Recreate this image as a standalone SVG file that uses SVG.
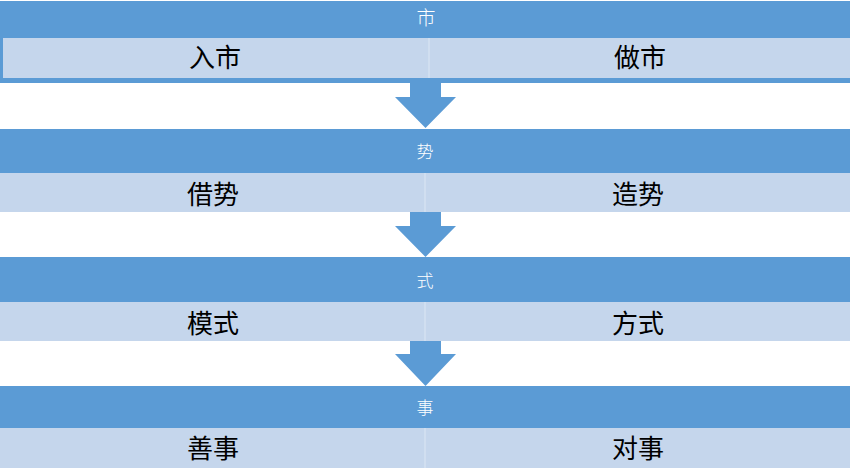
<svg xmlns="http://www.w3.org/2000/svg" width="850" height="468" viewBox="0 0 850 468">
<style>
.hd{fill:#5B9BD5}
.cell{fill:#C5D6EC}
.div{stroke:#D8E4F3;stroke-width:1.2}
.ht{fill:#FFFFFF;font-family:"Noto Sans CJK SC",sans-serif;font-size:17px;font-weight:300;text-anchor:middle;dominant-baseline:central}
.ct{fill:#000000;font-family:"Noto Sans CJK SC",sans-serif;font-size:26px;text-anchor:middle;dominant-baseline:central}
.arr{fill:#5B9BD5}
</style>
<rect width="850" height="468" fill="#FFFFFF"/>
<g id="node-shi">
<rect class="hd" x="0" y="1" width="850" height="82"/>
<rect class="cell" x="3" y="38" width="847" height="40"/>
<line class="div" x1="429" y1="38" x2="429" y2="78"/>
<text class="ht" x="426" y="16" style="font-size:19px">市</text>
<text class="ct" x="215" y="55">入市</text>
<text class="ct" x="640" y="55">做市</text>
</g>
<g id="node-shi4">
<rect class="hd" x="0" y="129" width="850" height="44"/>
<rect class="cell" x="0" y="173" width="850" height="39"/>
<line class="div" x1="425" y1="173" x2="425" y2="212"/>
<text class="ht" x="425" y="150">势</text>
<text class="ct" x="213" y="192">借势</text>
<text class="ct" x="638" y="192">造势</text>
</g>
<g id="node-style">
<rect class="hd" x="0" y="257" width="850" height="45"/>
<rect class="cell" x="0" y="302" width="850" height="39"/>
<line class="div" x1="425" y1="302" x2="425" y2="341"/>
<text class="ht" x="425" y="279">式</text>
<text class="ct" x="213" y="321">模式</text>
<text class="ct" x="638" y="321">方式</text>
</g>
<g id="node-affair">
<rect class="hd" x="0" y="386" width="850" height="42"/>
<rect class="cell" x="0" y="428" width="850" height="40"/>
<line class="div" x1="425" y1="428" x2="425" y2="468"/>
<text class="ht" x="425" y="406">事</text>
<text class="ct" x="213" y="446">善事</text>
<text class="ct" x="638" y="446">对事</text>
</g>
<g id="connectors">
<polygon class="arr" points="410,83 441,83 441,97 456,97 425.5,128 395,97 410,97"/>
<polygon class="arr" points="410,212 441,212 441,226 456,226 425.5,257 395,226 410,226"/>
<polygon class="arr" points="410,341 441,341 441,354 456,354 425.5,386 395,354 410,354"/>
</g>
</svg>
